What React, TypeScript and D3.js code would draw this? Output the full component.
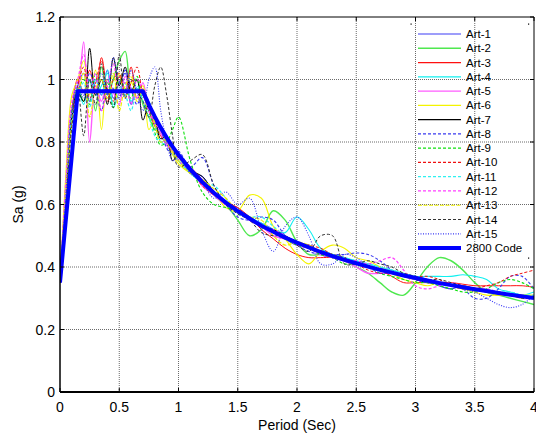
import React from "react";
import * as d3 from "d3";

// Periods (s) at which the artificial spectra are sampled
const periods: number[] = [
  0, 0.05, 0.1, 0.15, 0.2, 0.25, 0.3, 0.35, 0.4, 0.45, 0.5, 0.55, 0.6, 0.65, 0.7, 0.75, 0.8, 0.85, 0.9, 0.95, 1.0,
  1.1, 1.2, 1.3, 1.4, 1.5, 1.6, 1.7, 1.8, 1.9, 2.0, 2.1, 2.2, 2.3, 2.4, 2.5, 2.6, 2.7, 2.8, 2.9, 3.0,
  3.1, 3.2, 3.3, 3.4, 3.5, 3.6, 3.7, 3.8, 3.9, 4.0,
];

const art1 = [0.35, 0.62, 0.88, 0.98, 1.02, 0.93, 1.0, 0.95, 1.03, 0.94, 0.99, 1.02, 0.92, 0.97, 0.95, 0.9, 0.86, 0.83, 0.8, 0.78, 0.76,
  0.7, 0.69, 0.63, 0.6, 0.59, 0.55, 0.54, 0.52, 0.49, 0.47, 0.47, 0.44, 0.43, 0.43, 0.41, 0.4, 0.39, 0.38, 0.37, 0.37,
  0.36, 0.34, 0.33, 0.34, 0.33, 0.32, 0.31, 0.31, 0.3, 0.3];
const art2 = [0.35, 0.64, 0.9, 0.97, 0.93, 1.0, 0.9, 1.04, 0.95, 1.0, 1.06, 1.09, 0.96, 1.0, 0.92, 0.88, 0.84, 0.83, 0.8, 0.77, 0.74,
  0.71, 0.67, 0.63, 0.6, 0.55, 0.5, 0.52, 0.58, 0.55, 0.48, 0.44, 0.44, 0.44, 0.42, 0.4, 0.38, 0.35, 0.32, 0.31, 0.35,
  0.4, 0.43, 0.42, 0.39, 0.35, 0.32, 0.31, 0.3, 0.29, 0.28];
const art3 = [0.35, 0.63, 0.9, 1.0, 0.96, 1.03, 0.95, 1.07, 0.97, 0.93, 1.01, 0.96, 1.04, 0.94, 0.97, 0.9, 0.85, 0.82, 0.79, 0.77, 0.75,
  0.72, 0.68, 0.64, 0.61, 0.59, 0.56, 0.52, 0.49, 0.46, 0.44, 0.43, 0.43, 0.43, 0.42, 0.41, 0.4, 0.39, 0.37, 0.35, 0.35,
  0.35, 0.35, 0.35, 0.345, 0.34, 0.34, 0.34, 0.34, 0.34, 0.335];
const art4 = [0.35, 0.6, 0.86, 0.97, 0.92, 1.0, 0.95, 0.98, 1.02, 0.91, 0.96, 0.99, 0.93, 0.97, 0.95, 0.93, 0.86, 0.8, 0.79, 0.76, 0.74,
  0.7, 0.67, 0.63, 0.61, 0.58, 0.56, 0.54, 0.52, 0.51, 0.56, 0.52, 0.46, 0.44, 0.43, 0.42, 0.41, 0.4, 0.39, 0.38, 0.37,
  0.37, 0.37, 0.37, 0.375, 0.37, 0.36, 0.33, 0.32, 0.31, 0.32];
const art5 = [0.35, 0.66, 0.9, 0.95, 1.12, 0.8, 0.98, 0.93, 1.0, 0.96, 0.92, 1.01, 0.97, 0.94, 0.99, 0.9, 0.87, 0.83, 0.79, 0.77, 0.75,
  0.72, 0.66, 0.63, 0.6, 0.58, 0.55, 0.53, 0.5, 0.49, 0.48, 0.46, 0.44, 0.43, 0.42, 0.4, 0.38, 0.38, 0.38, 0.37, 0.36,
  0.35, 0.35, 0.34, 0.33, 0.33, 0.32, 0.32, 0.31, 0.3, 0.3];
const art6 = [0.35, 0.7, 0.95, 1.0, 1.06, 0.95, 1.03, 0.84, 1.0, 0.96, 1.02, 0.94, 0.99, 0.96, 0.98, 0.84, 0.87, 0.84, 0.8, 0.76, 0.73,
  0.7, 0.68, 0.64, 0.59, 0.58, 0.63, 0.62, 0.53, 0.49, 0.44, 0.41, 0.45, 0.47, 0.46, 0.43, 0.42, 0.4, 0.38, 0.36, 0.35,
  0.34, 0.35, 0.34, 0.33, 0.32, 0.31, 0.31, 0.31, 0.31, 0.31];
const art7 = [0.35, 0.6, 0.88, 0.96, 0.93, 1.1, 0.95, 1.0, 0.92, 1.07, 0.98, 1.04, 0.96, 1.0, 0.87, 0.92, 0.88, 0.81, 0.82, 0.74, 0.76,
  0.71, 0.69, 0.64, 0.6, 0.58, 0.55, 0.53, 0.52, 0.5, 0.48, 0.46, 0.45, 0.44, 0.43, 0.41, 0.4, 0.39, 0.38, 0.37, 0.36,
  0.35, 0.35, 0.34, 0.34, 0.33, 0.32, 0.32, 0.31, 0.31, 0.3];
const art8 = [0.35, 0.62, 0.9, 0.99, 0.95, 1.02, 0.97, 0.9, 1.0, 0.97, 0.94, 1.03, 0.97, 0.92, 0.96, 0.93, 0.86, 0.84, 0.78, 0.76, 0.77,
  0.72, 0.75, 0.66, 0.6, 0.56, 0.55, 0.56, 0.55, 0.5, 0.47, 0.45, 0.44, 0.44, 0.44, 0.445, 0.44, 0.42, 0.39, 0.37, 0.36,
  0.35, 0.35, 0.34, 0.33, 0.3, 0.3, 0.33, 0.37, 0.37, 0.33];
const art9 = [0.35, 0.65, 0.9, 0.96, 1.0, 0.92, 1.02, 0.96, 0.99, 0.91, 1.0, 0.97, 0.94, 1.01, 0.93, 0.9, 0.83, 0.79, 0.8, 0.84, 0.88,
  0.74, 0.64, 0.6, 0.59, 0.58, 0.56, 0.53, 0.51, 0.49, 0.47, 0.46, 0.44, 0.43, 0.41, 0.41, 0.4, 0.38, 0.37, 0.36, 0.35,
  0.35, 0.34, 0.33, 0.32, 0.32, 0.33, 0.35, 0.36, 0.35, 0.33];
const art10 = [0.35, 0.6, 0.87, 0.98, 1.04, 0.94, 0.99, 1.06, 0.93, 1.0, 1.02, 0.95, 0.99, 1.04, 0.95, 0.91, 0.87, 0.84, 0.81, 0.78, 0.75,
  0.71, 0.66, 0.63, 0.61, 0.58, 0.55, 0.53, 0.51, 0.49, 0.48, 0.47, 0.46, 0.44, 0.43, 0.41, 0.39, 0.38, 0.38, 0.38, 0.37,
  0.37, 0.36, 0.34, 0.33, 0.33, 0.34, 0.35, 0.37, 0.38, 0.39];
const art11 = [0.35, 0.63, 0.88, 0.94, 0.99, 0.91, 1.0, 0.95, 1.03, 0.92, 0.97, 0.95, 0.9, 0.98, 0.93, 0.88, 0.82, 0.8, 0.82, 0.78, 0.74,
  0.7, 0.67, 0.66, 0.62, 0.57, 0.56, 0.56, 0.53, 0.5, 0.48, 0.46, 0.45, 0.44, 0.43, 0.42, 0.41, 0.4, 0.39, 0.38, 0.37,
  0.36, 0.35, 0.34, 0.34, 0.33, 0.33, 0.32, 0.32, 0.31, 0.31];
const art12 = [0.35, 0.68, 0.93, 1.0, 1.08, 0.96, 1.02, 0.9, 0.98, 1.05, 0.95, 0.99, 0.92, 1.0, 0.96, 0.9, 0.86, 0.84, 0.8, 0.77, 0.74,
  0.71, 0.68, 0.63, 0.6, 0.58, 0.55, 0.53, 0.52, 0.5, 0.47, 0.46, 0.45, 0.43, 0.42, 0.42, 0.41, 0.42, 0.43, 0.39, 0.34,
  0.33, 0.34, 0.35, 0.34, 0.33, 0.33, 0.32, 0.31, 0.31, 0.3];
const art13 = [0.35, 0.62, 0.86, 0.95, 1.02, 0.88, 0.97, 1.0, 0.94, 1.02, 0.9, 0.98, 1.01, 0.93, 0.97, 0.92, 0.86, 0.8, 0.81, 0.77, 0.74,
  0.7, 0.68, 0.65, 0.62, 0.58, 0.56, 0.55, 0.5, 0.47, 0.48, 0.47, 0.45, 0.44, 0.42, 0.41, 0.4, 0.39, 0.38, 0.37, 0.36,
  0.36, 0.35, 0.34, 0.33, 0.33, 0.32, 0.31, 0.31, 0.3, 0.3];
const art14 = [0.35, 0.6, 0.85, 0.97, 0.82, 1.0, 0.92, 1.05, 0.96, 0.91, 1.08, 0.94, 1.0, 0.96, 0.93, 0.88, 0.98, 1.04, 0.95, 0.82, 0.72,
  0.74, 0.76, 0.66, 0.6, 0.57, 0.55, 0.51, 0.5, 0.5, 0.47, 0.45, 0.5, 0.5, 0.41, 0.41, 0.42, 0.41, 0.4, 0.38, 0.37,
  0.36, 0.36, 0.35, 0.34, 0.33, 0.32, 0.32, 0.31, 0.3, 0.3];
const art15 = [0.35, 0.63, 0.9, 0.98, 0.94, 1.0, 0.96, 1.02, 0.95, 1.07, 0.99, 0.94, 1.03, 0.96, 0.9, 1.0, 1.04, 0.9, 0.8, 0.74, 0.75,
  0.7, 0.67, 0.62, 0.64, 0.6, 0.62, 0.52, 0.45, 0.53, 0.56, 0.5, 0.41, 0.41, 0.44, 0.43, 0.4, 0.38, 0.38, 0.37, 0.36,
  0.35, 0.35, 0.34, 0.33, 0.32, 0.3, 0.28, 0.27, 0.28, 0.31];

// Standard 2800 design spectrum
const codePeriods = [0, 0.15, 0.7, 0.75, 0.8, 0.85, 0.9, 0.95, 1.0, 1.1, 1.2, 1.3, 1.4, 1.5, 1.6, 1.7, 1.8, 1.9, 2.0,
  2.1, 2.2, 2.3, 2.4, 2.5, 2.6, 2.7, 2.8, 2.9, 3.0, 3.1, 3.2, 3.3, 3.4, 3.5, 3.6, 3.7, 3.8, 3.9, 4.0];
const codeValues = [0.35, 0.9625, 0.9625, 0.919, 0.881, 0.846, 0.814, 0.785, 0.759, 0.712, 0.672, 0.637, 0.606, 0.579, 0.555, 0.532, 0.513, 0.494, 0.478,
  0.463, 0.448, 0.435, 0.423, 0.412, 0.401, 0.391, 0.382, 0.373, 0.365, 0.357, 0.349, 0.342, 0.335, 0.329, 0.323, 0.317, 0.311, 0.306, 0.301];

const seriesNames = ["Art-1", "Art-2", "Art-3", "Art-4", "Art-5", "Art-6", "Art-7", "Art-8", "Art-9", "Art-10", "Art-11", "Art-12", "Art-13", "Art-14", "Art-15"];
const seriesValues = [art1, art2, art3, art4, art5, art6, art7, art8, art9, art10, art11, art12, art13, art14, art15];
const codeName = "2800 Code";

const xTicks = [0, 0.5, 1, 1.5, 2, 2.5, 3, 3.5, 4];
const yTicks = [0, 0.2, 0.4, 0.6, 0.8, 1, 1.2];

const styles = [
  { color: "#3c3cf5", width: 1.1, dash: "" },
  { color: "#4fe84f", width: 1.4, dash: "" },
  { color: "#ff1010", width: 1, dash: "" },
  { color: "#10f0f0", width: 1.1, dash: "" },
  { color: "#ff5cff", width: 1.4, dash: "" },
  { color: "#f4f400", width: 1.1, dash: "" },
  { color: "#000000", width: 1, dash: "" },
  { color: "#3a3af0", width: 1.1, dash: "3,2" },
  { color: "#10e010", width: 1.1, dash: "3,2" },
  { color: "#f01010", width: 1, dash: "3,2" },
  { color: "#30f0f0", width: 1.2, dash: "3,2" },
  { color: "#ff40ff", width: 1.2, dash: "3,2" },
  { color: "#f0f000", width: 1.2, dash: "4,1.5" },
  { color: "#333333", width: 1, dash: "3,2" },
  { color: "#3a3af5", width: 1.1, dash: "1,1.5" },
];

const W = 536, H = 435;
const L = 60, R = 534, T = 17, B = 392;

export default function App() {
  const x = d3.scaleLinear().domain([0, 4]).range([L, R]);
  const y = d3.scaleLinear().domain([0, 1.2]).range([B, T]);
  const curve = d3.line<[number, number]>().x(d => x(d[0])).y(d => y(d[1])).curve(d3.curveCatmullRom.alpha(0.5));
  const codeLine = d3.line<[number, number]>().x(d => x(d[0])).y(d => y(d[1])).curve(d3.curveLinear);

  const font = "Liberation Sans, Arial, Helvetica, sans-serif";
  const legX0 = 418, legX1 = 461, legY0 = 34, legDy = 14.27;
  const legendItems = [...seriesNames.map((n, i) => ({ name: n, ...styles[i] })), { name: codeName, color: "#0000ff", width: 4, dash: "" }];

  return (
    <svg width={W} height={H} style={{ position: "absolute", left: 0, top: 0, background: "#fff" }} fontFamily={font}>
      <defs>
        <clipPath id="plotclip"><rect x={L} y={T} width={R - L} height={B - T} /></clipPath>
      </defs>
      <rect x={0} y={0} width={W} height={H} fill="#fff" />
      {/* grid */}
      {xTicks.slice(1, -1).map(t => (
        <line key={"gx" + t} x1={x(t)} x2={x(t)} y1={T} y2={B} stroke="#6a6a6a" strokeWidth={1} strokeDasharray="1,1" />
      ))}
      {yTicks.slice(1, -1).map(t => (
        <line key={"gy" + t} x1={L} x2={R} y1={y(t)} y2={y(t)} stroke="#6a6a6a" strokeWidth={1} strokeDasharray="1,1" />
      ))}
      {/* series */}
      <g clipPath="url(#plotclip)">
        {seriesValues.map((vals, i) => (
          <path key={seriesNames[i]} d={curve(periods.map((p, k) => [p, vals[k]] as [number, number])) || ""}
            fill="none" stroke={styles[i].color} strokeWidth={styles[i].width} strokeDasharray={styles[i].dash || undefined} />
        ))}
        <path d={codeLine(codePeriods.map((p, k) => [p, codeValues[k]] as [number, number])) || ""}
          fill="none" stroke="#0000ff" strokeWidth={4} strokeLinejoin="round" />
      </g>
      {/* axes box */}
      <line x1={L} x2={R} y1={T} y2={T} stroke="#000" strokeWidth={1} />
      <line x1={R} x2={R} y1={T} y2={B} stroke="#000" strokeWidth={1} />
      <line x1={L} x2={L} y1={T} y2={B} stroke="#000" strokeWidth={1.5} />
      <line x1={L} x2={R} y1={B} y2={B} stroke="#000" strokeWidth={2} />
      {/* ticks */}
      {xTicks.map(t => (
        <g key={"xt" + t}>
          <line x1={x(t)} x2={x(t)} y1={B} y2={B - 4} stroke="#000" />
          <line x1={x(t)} x2={x(t)} y1={T} y2={T + 4} stroke="#000" />
          <text x={x(t)} y={412} fontSize={14} textAnchor="middle" fill="#000">{String(t)}</text>
        </g>
      ))}
      {yTicks.map(t => (
        <g key={"yt" + t}>
          <line x1={L} x2={L + 4} y1={y(t)} y2={y(t)} stroke="#000" />
          <line x1={R} x2={R - 4} y1={y(t)} y2={y(t)} stroke="#000" />
          <text x={55} y={y(t) + 5} fontSize={14} textAnchor="end" fill="#000">{String(t)}</text>
        </g>
      ))}
      <text x={(L + R) / 2} y={430} fontSize={14} textAnchor="middle" fill="#000">Period (Sec)</text>
      <text transform={`translate(23,${(T + B) / 2}) rotate(-90)`} fontSize={14} textAnchor="middle" fill="#000">Sa (g)</text>
      {/* legend */}
      <g>
        <rect x={410.5} y={23.5} width={1.2} height={1.2} fill="#000" />
        <rect x={528} y={23.5} width={1.2} height={1.2} fill="#000" />
        <rect x={528} y={257.5} width={1.2} height={1.2} fill="#000" />
        {legendItems.map((it, i) => {
          const yy = legY0 + i * legDy;
          return (
            <g key={"lg" + it.name}>
              <line x1={legX0} x2={legX1} y1={yy} y2={yy} stroke={it.color} strokeWidth={it.width === 4 ? 4 : Math.max(it.width, 1.2)}
                strokeDasharray={it.dash || undefined} />
              <text x={466} y={yy + 4} fontSize={11.5} fill="#000">{it.name}</text>
            </g>
          );
        })}
      </g>
    </svg>
  );
}
